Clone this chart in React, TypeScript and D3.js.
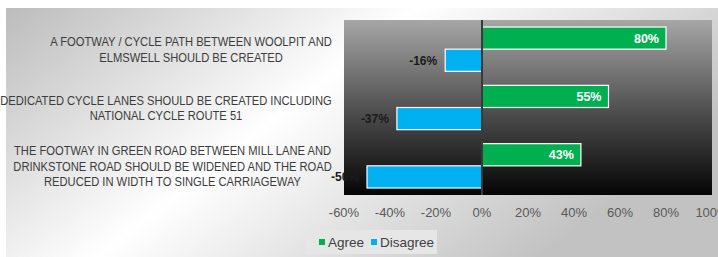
import React, { useEffect, useRef } from 'react';
import * as d3 from 'd3';

// Survey statements (split into display lines as in the source)
const categories = ['woolpit', 'lanes', 'greenroad'];
const categoryLines = [
  ['A FOOTWAY / CYCLE PATH BETWEEN WOOLPIT AND', 'ELMSWELL SHOULD BE CREATED'],
  ['DEDICATED CYCLE LANES SHOULD BE CREATED INCLUDING', 'NATIONAL CYCLE ROUTE 51'],
  [
    'THE FOOTWAY IN GREEN ROAD BETWEEN MILL LANE AND',
    'DRINKSTONE ROAD SHOULD BE WIDENED AND THE ROAD',
    'REDUCED IN WIDTH TO SINGLE CARRIAGEWAY',
  ],
];
const agree = [80, 55, 43];
const disagree = [-16, -37, -50];
const xTicks = [-60, -40, -20, 0, 20, 40, 60, 80, 100];
const seriesNames = ['Agree', 'Disagree'];

const W = 718;
const H = 257;
const GREEN = '#00b050';
const BLUE = '#00b0f0';

const App: React.FC = () => {
  const svgRef = useRef<SVGSVGElement>(null);

  useEffect(() => {
    if (!svgRef.current) return;
    const svg = d3.select(svgRef.current);
    svg.selectAll('*').remove();

    const plot = { left: 344, right: 712, top: 20, bottom: 195 };

    const defs = svg.append('defs');
    const bg = defs.append('linearGradient').attr('id', 'bg')
      .attr('x1', 0).attr('y1', 0).attr('x2', 1).attr('y2', 0.45);
    bg.append('stop').attr('offset', '0%').attr('stop-color', '#bcbcbc');
    bg.append('stop').attr('offset', '48%').attr('stop-color', '#ffffff');
    bg.append('stop').attr('offset', '100%').attr('stop-color', '#c2c2c2');

    const pg = defs.append('linearGradient').attr('id', 'plotbg')
      .attr('x1', 0).attr('y1', 0).attr('x2', 0).attr('y2', 1);
    pg.append('stop').attr('offset', '0%').attr('stop-color', '#a6a6a6');
    pg.append('stop').attr('offset', '55%').attr('stop-color', '#4a4a4a');
    pg.append('stop').attr('offset', '100%').attr('stop-color', '#050505');

    svg.append('rect').attr('width', W).attr('height', H).attr('fill', '#ffffff');
    svg.append('rect').attr('x', 6).attr('y', 8).attr('width', W - 6).attr('height', H - 8)
      .attr('fill', 'url(#bg)');

    // Scales
    const x = d3.scaleLinear().domain([-60, 100]).range([plot.left, plot.right]);
    const y = d3.scaleBand<string>().domain(categories).range([plot.top, plot.bottom])
      .paddingInner(0.24).paddingOuter(0.12);
    const sub = d3.scaleBand<string>().domain(seriesNames).range([0, y.bandwidth()]);

    svg.append('rect')
      .attr('x', plot.left).attr('y', plot.top)
      .attr('width', plot.right - plot.left).attr('height', plot.bottom - plot.top)
      .attr('fill', 'url(#plotbg)');

    const g = svg.append('g');

    // Agree bars
    g.selectAll('rect.agree').data(agree).enter().append('rect')
      .attr('class', 'agree')
      .attr('x', x(0))
      .attr('y', (_, i) => (y(categories[i]) as number) + (sub('Agree') as number))
      .attr('width', d => x(d) - x(0))
      .attr('height', sub.bandwidth())
      .attr('fill', GREEN).attr('stroke', '#ffffff').attr('stroke-width', 1.2);

    // Disagree bars
    g.selectAll('rect.dis').data(disagree).enter().append('rect')
      .attr('class', 'dis')
      .attr('x', d => x(d))
      .attr('y', (_, i) => (y(categories[i]) as number) + (sub('Disagree') as number))
      .attr('width', d => x(0) - x(d))
      .attr('height', sub.bandwidth())
      .attr('fill', BLUE).attr('stroke', '#ffffff').attr('stroke-width', 1.2);

    // Zero line
    g.append('line')
      .attr('x1', x(0)).attr('x2', x(0))
      .attr('y1', plot.top).attr('y2', plot.bottom)
      .attr('stroke', '#3a3a3a').attr('stroke-width', 2);

    const labelFont = '"Liberation Sans", Arial, sans-serif';

    // Value labels
    g.selectAll('text.al').data(agree).enter().append('text')
      .attr('x', d => x(d) - 7)
      .attr('y', (_, i) => (y(categories[i]) as number) + (sub('Agree') as number) + sub.bandwidth() / 2)
      .attr('dy', '0.36em')
      .attr('text-anchor', 'end')
      .attr('font-family', labelFont).attr('font-size', 12.5).attr('font-weight', 'bold')
      .attr('fill', '#ffffff')
      .text(d => `${d}%`);

    g.selectAll('text.dl').data(disagree).enter().append('text')
      .attr('x', d => x(d) - 8)
      .attr('y', (_, i) => (y(categories[i]) as number) + (sub('Disagree') as number) + sub.bandwidth() / 2)
      .attr('dy', '0.36em')
      .attr('text-anchor', 'end')
      .attr('font-family', labelFont).attr('font-size', 12).attr('font-weight', 'bold')
      .attr('fill', '#1a1a1a')
      .text(d => `${d}%`);

    // X tick labels
    svg.append('g').selectAll('text').data(xTicks).enter().append('text')
      .attr('x', d => x(d))
      .attr('y', 217)
      .attr('text-anchor', 'middle')
      .attr('font-family', labelFont).attr('font-size', 13)
      .attr('fill', '#595959')
      .text(d => `${d}%`);

    // Category labels: a narrow face is not available, so condense the text
    // horizontally so the widest line spans from x=0 to the right edge (332).
    const catRight = 332;
    const lineH = 15.5;
    const blocks = categoryLines.map((lines, i) => {
      const cy = (y(categories[i]) as number) + y.bandwidth() / 2;
      const blk = svg.append('g');
      const texts = lines.map((ln, j) =>
        blk.append('text')
          .attr('x', 0)
          .attr('y', cy + (j - (lines.length - 1) / 2) * lineH)
          .attr('dy', '0.36em')
          .attr('text-anchor', 'middle')
          .attr('font-family', labelFont).attr('font-size', 13.5)
          .attr('fill', '#3c3c3c')
          .text(ln)
      );
      const maxW = d3.max(texts, t => (t.node() as SVGTextElement).getComputedTextLength()) || 0;
      return { texts, maxW };
    });
    const widest = d3.max(blocks, b => b.maxW) || 1;
    const k = catRight / widest;
    blocks.forEach(b => {
      const cx = catRight - (b.maxW * k) / 2;
      b.texts.forEach(t => t.attr('transform', `translate(${cx},0) scale(${k},1)`));
    });

    // Legend
    const lg = svg.append('g');
    lg.append('rect').attr('x', 305).attr('y', 230).attr('width', 132).attr('height', 24)
      .attr('fill', '#e6e6e6');
    const items = [
      { name: seriesNames[0], color: GREEN, x: 319 },
      { name: seriesNames[1], color: BLUE, x: 371 },
    ];
    items.forEach(it => {
      lg.append('rect').attr('x', it.x).attr('y', 239).attr('width', 6).attr('height', 6)
        .attr('fill', it.color);
      lg.append('text').attr('x', it.x + 9).attr('y', 246.5)
        .attr('font-family', labelFont).attr('font-size', 13.5)
        .attr('fill', '#404040')
        .text(it.name);
    });
  }, []);

  return (
    <svg
      ref={svgRef}
      width={W}
      height={H}
      style={{ position: 'absolute', left: 0, top: 0, display: 'block' }}
    />
  );
};

export default App;
